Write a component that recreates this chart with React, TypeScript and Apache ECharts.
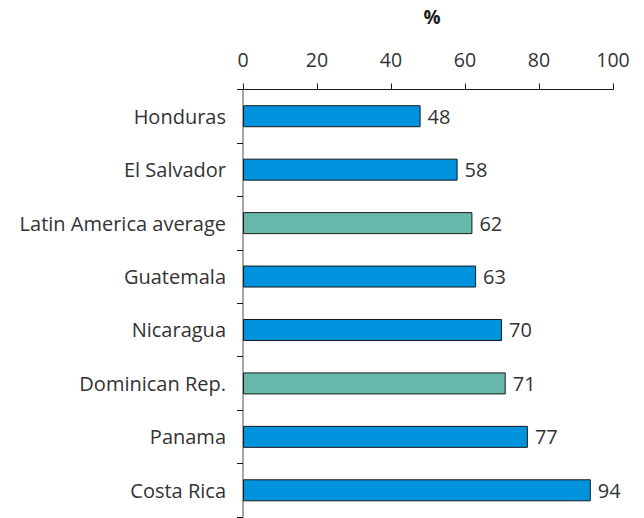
import React, { useEffect, useRef } from "react";
import * as echarts from "echarts";

const categories = [
  "Honduras",
  "El Salvador",
  "Latin America average",
  "Guatemala",
  "Nicaragua",
  "Dominican Rep.",
  "Panama",
  "Costa Rica",
];
const values = [48, 58, 62, 63, 70, 71, 77, 94];
const highlighted = ["Latin America average", "Dominican Rep."];
const xTicks = [0, 20, 40, 60, 80, 100];
const unitLabel = "%";

const BLUE = "#0093DD";
const GREEN = "#66B8AA";
const FONT = "'Open Sans', 'Noto Sans', sans-serif";

export default function App() {
  const ref = useRef<HTMLDivElement>(null);
  useEffect(() => {
    document.body.style.margin = "0";
    if (!ref.current) return;
    const chart = echarts.init(ref.current, null, { renderer: "svg" });
    chart.setOption({
      animation: false,
      graphic: [
        {
          type: "text",
          x: 432,
          y: 17,
          style: {
            text: unitLabel,
            fontFamily: FONT,
            fontSize: 19,
            fontWeight: "bold",
            fill: "#1a1a1a",
            textAlign: "center",
            textVerticalAlign: "middle",
          },
        },
      ],
      grid: { left: 243, right: 31, top: 89.5, bottom: 1, containLabel: false },
      xAxis: {
        type: "value",
        position: "top",
        min: xTicks[0],
        max: xTicks[xTicks.length - 1],
        interval: 20,
        axisLine: { show: true, lineStyle: { color: "#1a1a1a", width: 1 } },
        axisTick: { show: true, length: 6, lineStyle: { color: "#1a1a1a" } },
        splitLine: { show: false },
        axisLabel: { fontFamily: FONT, fontSize: 19.5, color: "#333", margin: 20 },
      },
      yAxis: {
        type: "category",
        inverse: true,
        data: categories,
        axisLine: { show: true, lineStyle: { color: "#888", width: 1.5 } },
        axisTick: { show: true, length: 6, lineStyle: { color: "#1a1a1a" } },
        axisLabel: { fontFamily: FONT, fontSize: 20, color: "#333", margin: 17 },
      },
      series: [
        {
          type: "bar",
          barWidth: 22,
          data: values.map((v, i) => ({
            value: v,
            itemStyle: {
              color: highlighted.includes(categories[i]) ? GREEN : BLUE,
              borderColor: "#1a1a1a",
              borderWidth: 1,
            },
          })),
          label: {
            show: true,
            position: "right",
            distance: 7,
            fontFamily: FONT,
            fontSize: 20,
            color: "#333",
          },
        },
      ],
    });
    return () => chart.dispose();
  }, []);
  return <div ref={ref} style={{ width: 644, height: 518 }} />;
}
